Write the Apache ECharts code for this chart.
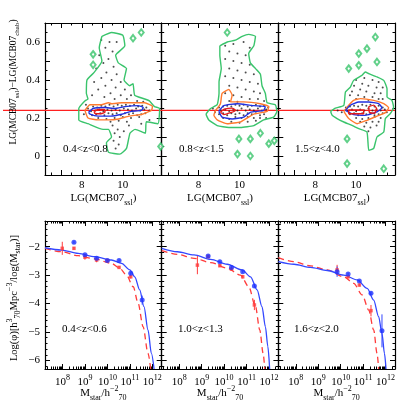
<!DOCTYPE html>
<html>
<head>
<meta charset="utf-8">
<script src="https://cdn.jsdelivr.net/npm/echarts@6/dist/echarts.min.js"></script>
<style>
  html, body { margin: 0; padding: 0; background: #fff; }
  #chart { width: 417px; height: 417px; }
</style>
</head>
<body>
<div id="chart"></div>
<script>
// ---- top row: LG(MCB07 ssl) vs offset, contour outlines + galaxies ----
const topLabels = ['0.4<z<0.8', '0.8<z<1.5', '1.5<z<4.0']
const offsetLevel = 0.24

const p1Green = [[8.98,0.63],[9.45,0.65],[10.0,0.635],[10.1,0.58],[9.65,0.53],[9.78,0.49],[10.18,0.46],[10.06,0.40],[10.34,0.37],[10.5,0.38],[10.58,0.32],[11.07,0.30],[11.3,0.29],[11.55,0.26],[11.8,0.25],[11.72,0.17],[11.15,0.18],[11.1,0.12],[10.6,0.14],[10.35,0.12],[10.18,0.04],[9.85,0.01],[9.3,0.02],[9.2,0.07],[9.45,0.10],[9.3,0.14],[9.04,0.14],[8.3,0.17],[7.85,0.19],[7.85,0.25],[8.15,0.29],[8.3,0.30],[8.22,0.33],[8.25,0.40],[8.6,0.44],[8.98,0.5],[8.85,0.57]]
const p1Orange = [[8.15,0.24],[8.4,0.27],[8.95,0.27],[9.3,0.28],[9.45,0.275],[9.95,0.28],[10.6,0.28],[11.07,0.28],[11.45,0.26],[11.4,0.24],[10.95,0.22],[10.3,0.21],[9.8,0.195],[9.3,0.19],[8.8,0.19],[8.3,0.2]]
const p1Blue = [[8.33,0.23],[8.55,0.25],[9.1,0.255],[9.6,0.25],[10.1,0.26],[10.75,0.265],[11.0,0.255],[10.9,0.24],[10.4,0.235],[9.95,0.22],[9.4,0.21],[8.8,0.21],[8.4,0.22]]
const p1Red = [[8.6,0.235],[8.8,0.245],[9.1,0.245],[9.13,0.23],[8.88,0.222],[8.63,0.225]]
const p1Islands = [[8.55,0.535],[8.55,0.48],[10.5,0.62],[10.9,0.65],[11.85,0.05]]
const p1Dots = [[8.95,0.61],[9.35,0.6],[9.7,0.6],[9.15,0.57],[9.5,0.55],[8.85,0.53],[9.3,0.51],[9.05,0.49],[9.55,0.47],[8.7,0.46],[9.2,0.44],[9.7,0.43],[8.95,0.41],[9.45,0.4],[9.9,0.39],[8.6,0.39],[9.15,0.37],[9.65,0.36],[10.1,0.35],[8.8,0.35],[9.4,0.33],[9.9,0.32],[10.4,0.32],[8.5,0.32],[9.1,0.31],[9.6,0.3],[10.2,0.3],[10.7,0.29],[11.0,0.285],
  [8.3,0.25],[8.55,0.26],[8.75,0.255],[8.95,0.265],[9.15,0.26],[9.35,0.27],[9.55,0.26],[9.75,0.27],[9.95,0.265],[10.15,0.27],[10.35,0.265],[10.55,0.27],[10.75,0.26],[10.95,0.265],[11.15,0.255],
  [8.45,0.235],[8.65,0.24],[8.85,0.245],[9.05,0.235],[9.25,0.245],[9.45,0.24],[9.65,0.245],[9.85,0.24],[10.05,0.25],[10.25,0.245],[10.45,0.24],[10.65,0.25],[10.85,0.24],[11.05,0.245],[11.3,0.24],
  [8.5,0.215],[8.7,0.22],[8.9,0.225],[9.1,0.215],[9.3,0.225],[9.5,0.22],[9.7,0.225],[9.9,0.215],[10.1,0.225],[10.3,0.22],[10.5,0.225],[10.7,0.215],[10.9,0.22],[11.1,0.225],
  [8.8,0.2],[9.2,0.195],[9.6,0.2],[10.0,0.205],[10.4,0.2],[10.8,0.205],[9.4,0.18],[9.8,0.185],[10.2,0.18],
  [9.5,0.16],[9.75,0.14],[9.6,0.12],[9.85,0.1],[9.55,0.08],[9.8,0.06],[9.65,0.04],[10.05,0.13],[10.3,0.16],[10.9,0.17],[11.3,0.19],[8.1,0.22],[8.2,0.27]]

const p2Green = [[9.04,0.58],[9.4,0.60],[9.8,0.61],[10.13,0.63],[10.45,0.64],[10.78,0.63],[10.7,0.58],[10.45,0.54],[10.53,0.49],[10.78,0.46],[11.02,0.43],[11.1,0.37],[11.26,0.33],[11.35,0.28],[11.75,0.27],[11.83,0.235],[11.67,0.205],[11.18,0.19],[10.7,0.16],[10.05,0.15],[9.48,0.15],[8.91,0.16],[8.5,0.19],[8.37,0.22],[8.59,0.25],[8.91,0.27],[9.0,0.33],[9.0,0.39],[9.11,0.46],[9.04,0.53]]
const p2Orange = [[8.83,0.24],[9.07,0.275],[9.15,0.33],[9.48,0.35],[9.64,0.32],[9.56,0.285],[10.21,0.285],[11.02,0.275],[11.43,0.26],[11.35,0.235],[10.7,0.22],[10.05,0.18],[9.4,0.17],[8.91,0.19],[8.75,0.215]]
const p2Blue = [[8.99,0.235],[9.23,0.265],[9.88,0.275],[10.7,0.265],[11.26,0.26],[11.18,0.24],[10.53,0.23],[10.21,0.205],[9.64,0.195],[9.15,0.205]]
const p2Red = [[9.07,0.23],[9.23,0.245],[9.64,0.252],[9.8,0.24],[9.56,0.228],[9.23,0.218]]
const p2Islands = [[9.4,0.65],[9.97,0.09],[10.53,0.09],[10.53,0.0],[9.9,0.01],[11.43,0.065],[11.02,0.12],[11.7,0.08]]
const p2Dots = [[9.3,0.58],[9.7,0.59],[10.2,0.6],[10.5,0.57],[9.5,0.55],[9.9,0.54],[10.3,0.53],[9.3,0.51],[9.7,0.5],[10.1,0.49],[10.5,0.48],[9.5,0.46],[9.9,0.45],[10.3,0.44],[10.7,0.43],[9.3,0.42],[9.7,0.41],[10.1,0.4],[10.5,0.39],[10.9,0.38],[9.5,0.37],[9.9,0.36],[10.3,0.35],[10.7,0.34],[11.0,0.33],[9.3,0.33],[9.7,0.32],[10.1,0.31],[10.5,0.3],[10.9,0.3],[11.2,0.29],[9.5,0.29],[9.9,0.285],
  [9.0,0.255],[9.2,0.26],[9.4,0.265],[9.6,0.26],[9.8,0.27],[10.0,0.265],[10.2,0.27],[10.4,0.26],[10.6,0.265],[10.8,0.27],[11.0,0.26],[11.2,0.265],[11.4,0.255],
  [9.1,0.24],[9.3,0.245],[9.5,0.235],[9.7,0.245],[9.9,0.24],[10.1,0.25],[10.3,0.24],[10.5,0.245],[10.7,0.24],[10.9,0.25],[11.1,0.24],[11.3,0.245],
  [9.0,0.22],[9.2,0.225],[9.4,0.215],[9.6,0.225],[9.8,0.22],[10.0,0.225],[10.2,0.215],[10.4,0.225],[10.6,0.22],[10.8,0.225],[11.0,0.215],[11.2,0.22],
  [9.2,0.2],[9.5,0.195],[9.8,0.205],[10.1,0.2],[10.4,0.205],[10.7,0.2],[11.0,0.2],[9.6,0.18],[10.0,0.175],[10.4,0.18],[10.8,0.185],[11.3,0.2],[8.8,0.23],[8.7,0.25]]

const p3Green = [[8.75,0.235],[8.99,0.252],[9.4,0.267],[9.48,0.337],[9.72,0.363],[9.88,0.398],[10.29,0.425],[10.45,0.442],[10.62,0.433],[11.02,0.416],[11.35,0.398],[11.51,0.354],[11.51,0.31],[11.75,0.293],[11.83,0.258],[11.67,0.223],[11.43,0.197],[11.35,0.126],[11.02,0.1],[10.86,0.04],[10.62,0.03],[10.53,0.126],[10.13,0.144],[9.8,0.161],[9.4,0.179],[9.07,0.197],[8.83,0.214]]
const p3Orange = [[9.4,0.235],[9.64,0.267],[9.88,0.293],[10.21,0.302],[10.86,0.293],[11.35,0.276],[11.59,0.254],[11.43,0.228],[11.02,0.21],[10.53,0.188],[10.05,0.17],[9.64,0.197]]
const p3Blue = [[9.48,0.24],[9.72,0.267],[10.13,0.284],[10.62,0.284],[11.1,0.276],[11.26,0.254],[11.02,0.232],[10.45,0.214],[9.88,0.218]]
const p3Red = [[9.64,0.243],[10.37,0.243],[10.37,0.222],[9.64,0.222]]
const p3Red2 = [[10.62,0.26],[10.86,0.268],[11.0,0.25],[10.9,0.225],[10.65,0.23]]
const p3Islands = [[9.56,0.09],[9.56,-0.04],[11.35,-0.067],[10.94,0.626],[10.53,0.565],[10.13,0.539],[10.13,0.477],[9.64,0.46],[11.02,0.495]]
const p3Dots = [[10.0,0.4],[10.4,0.41],[10.8,0.4],[11.1,0.39],[9.9,0.37],[10.3,0.38],[10.6,0.37],[11.0,0.36],[11.3,0.36],[9.8,0.34],[10.2,0.35],[10.5,0.34],[10.9,0.33],[11.2,0.33],[9.7,0.32],[10.1,0.32],[10.4,0.31],[10.8,0.31],[11.1,0.3],[10.0,0.3],[10.6,0.295],[11.3,0.3],
  [9.5,0.255],[9.7,0.26],[9.9,0.265],[10.1,0.26],[10.3,0.27],[10.5,0.265],[10.7,0.27],[10.9,0.26],[11.1,0.265],[11.3,0.255],
  [9.6,0.24],[9.8,0.245],[10.0,0.235],[10.2,0.245],[10.4,0.24],[10.6,0.25],[10.8,0.24],[11.0,0.245],[11.2,0.24],[11.4,0.245],
  [9.7,0.22],[9.9,0.225],[10.1,0.215],[10.3,0.225],[10.5,0.22],[10.7,0.225],[10.9,0.215],[11.1,0.22],[11.3,0.225],
  [10.0,0.2],[10.3,0.195],[10.6,0.2],[10.9,0.205],[11.2,0.2],[10.2,0.18],[10.5,0.175],[10.8,0.18],[11.1,0.18],[10.4,0.155],[10.7,0.15],[11.0,0.16],[10.6,0.13],[9.3,0.23],[9.1,0.24],[11.5,0.23]]

// ---- bottom row: mass functions (log10 M, log phi, error) ----
const botLabels = ['0.4<z<0.6', '1.0<z<1.3', '1.6<z<2.0']

const lf1BlueFit = [[7.22,-2.04],[7.96,-2.12],[8.70,-2.24],[9.44,-2.35],[10.18,-2.47],[10.63,-2.59],[11.0,-2.82],[11.22,-3.06],[11.44,-3.52],[11.63,-4.11],[11.81,-4.93],[11.96,-5.75],[12.08,-6.3]]
const lf1RedFit = [[7.22,-2.06],[7.96,-2.18],[8.70,-2.32],[9.44,-2.43],[10.18,-2.59],[10.55,-2.76],[10.85,-3.0],[11.15,-3.41],[11.37,-3.99],[11.59,-4.81],[11.81,-5.75],[11.93,-6.3]]
const lf1BluePts = [[8.51,-1.85,0.04],[9.0,-2.29,0.04],[9.52,-2.41,0.04],[10.0,-2.49,0.04],[10.52,-2.49,0.04],[11.04,-2.94,0.06],[11.55,-3.88,0.16]]
const lf1RedPts = [[7.99,-2.06,0.23],[8.51,-2.06,0.05],[9.0,-2.37,0.09],[9.52,-2.47,0.08],[10.0,-2.49,0.05],[10.52,-2.73,0.05],[11.04,-3.06,0.06]]

const lf2BlueFit = [[7.22,-2.06],[7.92,-2.18],[8.66,-2.29],[9.40,-2.45],[10.14,-2.62],[10.8,-2.82],[11.18,-3.06],[11.47,-3.52],[11.69,-4.11],[11.84,-4.81],[11.95,-5.51],[12.03,-6.3]]
const lf2RedFit = [[7.22,-2.14],[7.92,-2.27],[8.66,-2.41],[9.40,-2.56],[10.14,-2.76],[10.73,-3.0],[11.1,-3.41],[11.4,-4.11],[11.59,-4.93],[11.74,-5.75],[11.81,-6.3]]
const lf2BluePts = [[9.29,-2.33,0.05],[9.81,-2.53,0.04],[10.33,-2.73,0.04],[10.83,-2.88,0.04],[11.35,-3.38,0.06]]
const lf2RedPts = [[8.81,-2.65,0.32],[9.29,-2.35,0.05],[9.81,-2.67,0.05],[10.33,-2.79,0.05],[10.83,-3.06,0.06],[11.35,-4.05,0.18]]

const lf3BlueFit = [[7.22,-2.53],[7.92,-2.62],[8.66,-2.73],[9.40,-2.84],[10.14,-3.0],[10.73,-3.17],[11.18,-3.47],[11.47,-3.88],[11.69,-4.46],[11.84,-5.05],[11.95,-5.75],[12.02,-6.3]]
const lf3RedFit = [[7.22,-2.39],[7.92,-2.53],[8.66,-2.68],[9.40,-2.82],[10.14,-3.06],[10.58,-3.29],[10.96,-3.7],[11.25,-4.23],[11.47,-4.93],[11.62,-5.75],[11.69,-6.3]]
const lf3BluePts = [[9.84,-2.88,0.18],[10.33,-2.96,0.04],[10.83,-3.21,0.04],[11.35,-3.64,0.06],[11.84,-4.96,0.58]]
const lf3RedPts = [[9.84,-2.82,0.18],[10.33,-3.06,0.05],[10.83,-3.35,0.05],[11.35,-4.25,0.2]]

// tick positions
const topXMajor = [7, 8, 9, 10, 11]
const topXMinor = [6.5, 7.5, 8.5, 9.5, 10.5, 11.5]
const topXLabels = [8, 10]
const topYMajor = [0, 0.1, 0.2, 0.3, 0.4, 0.5, 0.6]
const topYMinor = [-0.05, 0.05, 0.15, 0.25, 0.35, 0.45, 0.55, 0.65]
const topYLabels = [0, 0.2, 0.4, 0.6]
const botXMajor = [8, 9, 10, 11, 12]
const botYMajor = [-6, -5, -4, -3, -2]
const botYLabels = [-6, -5, -4, -3, -2]

const FONT = "'Liberation Serif', 'DejaVu Serif', serif"
const GREEN = '#3ac46c'
const ORANGE = '#ff7a2e'
const BLUE = '#2130e0'
const RED = '#e41b1b'
const FIT_BLUE = '#3347ff'
const FIT_RED = '#ff3b3b'

function makeRich(size) {
  const small = Math.round(size * 0.72)
  return {
    n: { fontFamily: FONT, fontSize: size, color: '#000', lineHeight: size + 6 },
    sub: { fontFamily: FONT, fontSize: small, color: '#000', verticalAlign: 'bottom', lineHeight: small + 1 },
    sup: { fontFamily: FONT, fontSize: small, color: '#000', verticalAlign: 'top', lineHeight: small + 1 }
  }
}

// log minor ticks for the mass axis
const botXMinor = []
for (let d = 7; d <= 12; d++) {
  for (let k = 2; k <= 9; k++) botXMinor.push(d + Math.log10(k))
}
const botYMinor = []
for (let v = -62; v <= -12; v += 2) {
  if (v % 10 !== 0) botYMinor.push(v / 10)
}

const GX = [45, 161.7, 278.3]
const GW = 116.7
const TOPR = { x: [6.2, 11.9], y: [-0.1, 0.7] }
const BOTR = { x: [7.22, 12.42], y: [-6.3, -1.1] }

const grids = []
const xAxes = []
const yAxes = []

function axis(dim, g, r, pos, ticks, len, showLine, labels, fmt) {
  const a = {
    gridIndex: g, type: 'value', min: r[0], max: r[1], position: pos,
    axisLine: { show: showLine, onZero: false, lineStyle: { color: '#000', width: 1.2 } },
    axisTick: { show: true, inside: true, length: len, customValues: ticks, lineStyle: { color: '#000', width: 1 } },
    axisLabel: { show: false },
    splitLine: { show: false },
    minorTick: { show: false }
  }
  if (labels) {
    a.axisLabel = {
      show: true, customValues: labels, formatter: fmt, margin: 5,
      color: '#000', fontFamily: FONT, fontSize: 11, rich: makeRich(11)
    }
  }
  return a
}

function addPanel(g, left, top, height, r, xMaj, xMin, yMaj, yMin, xLab, xFmt, yLab, yFmt) {
  grids.push({ left: left, top: top, width: GW, height: height })
  xAxes.push(axis('x', g, r.x, 'bottom', xMaj, 5, true, xLab, xFmt))
  xAxes.push(axis('x', g, r.x, 'top', xMaj, 5, true))
  xAxes.push(axis('x', g, r.x, 'bottom', xMin, 2.5, false))
  xAxes.push(axis('x', g, r.x, 'top', xMin, 2.5, false))
  yAxes.push(axis('y', g, r.y, 'left', yMaj, 5, true, yLab, yFmt))
  yAxes.push(axis('y', g, r.y, 'right', yMaj, 5, true))
  yAxes.push(axis('y', g, r.y, 'left', yMin, 2.5, false))
  yAxes.push(axis('y', g, r.y, 'right', yMin, 2.5, false))
}

const topFmt = v => (v === 0 ? '0' : v.toFixed(1))
const botXFmt = v => '{n|10}{sup|' + v + '}'
const botYFmt = v => '\u2212' + Math.abs(v)

for (let i = 0; i < 3; i++) {
  addPanel(i, GX[i], 23, 152, TOPR, topXMajor, topXMinor, topYMajor, topYMinor,
    topXLabels, v => String(v), i === 0 ? topYLabels : null, topFmt)
}
for (let i = 0; i < 3; i++) {
  addPanel(3 + i, GX[i], 221, 148, BOTR, botXMajor, botXMinor, botYMajor, botYMinor,
    botXMajor, botXFmt, i === 0 ? botYLabels : null, botYFmt)
}
// hidden overlay carrying the reference offset line across the top row
grids.push({ left: 3, top: 23, width: 392, height: 152 })
xAxes.push({ gridIndex: 6, type: 'value', min: 0, max: 1, show: false })
yAxes.push({ gridIndex: 6, type: 'value', min: TOPR.y[0], max: TOPR.y[1], show: false })

const series = []
series.push({
  type: 'line', xAxisIndex: 24, yAxisIndex: 24, data: [[0, offsetLevel], [1, offsetLevel]],
  symbol: 'none', lineStyle: { color: '#ff2020', width: 1.3 }, z: 1, silent: true
})

function poly(g, pts, color, z) {
  return {
    type: 'line', xAxisIndex: g * 4, yAxisIndex: g * 4, data: pts.concat([pts[0]]),
    symbol: 'none', smooth: 0.15, lineStyle: { color: color, width: 1.4 }, z: z, silent: true
  }
}

const topSets = [
  { dots: p1Dots, green: [p1Green], islands: p1Islands, orange: p1Orange, blue: p1Blue, red: [p1Red] },
  { dots: p2Dots, green: [p2Green], islands: p2Islands, orange: p2Orange, blue: p2Blue, red: [p2Red] },
  { dots: p3Dots, green: [p3Green], islands: p3Islands, orange: p3Orange, blue: p3Blue, red: [p3Red, p3Red2] }
]
topSets.forEach((s, g) => {
  series.push({
    type: 'scatter', xAxisIndex: g * 4, yAxisIndex: g * 4, data: s.dots,
    symbolSize: 2, itemStyle: { color: '#222' }, z: 2, silent: true
  })
  s.green.forEach(p => series.push(poly(g, p, GREEN, 3)))
  series.push({
    type: 'scatter', xAxisIndex: g * 4, yAxisIndex: g * 4, data: s.islands,
    symbol: 'emptyDiamond', symbolSize: [5, 6.5],
    itemStyle: { color: GREEN, borderColor: GREEN, borderWidth: 1.3 }, z: 3, silent: true
  })
  series.push(poly(g, s.orange, ORANGE, 4))
  series.push(poly(g, s.blue, BLUE, 5))
  s.red.forEach(p => series.push(poly(g, p, RED, 6)))
})

function errorBars(g, pts, color) {
  return {
    type: 'custom', xAxisIndex: g * 4, yAxisIndex: g * 4, data: pts, z: 6, silent: true,
    encode: { x: 0, y: 1 },
    renderItem: (params, api) => {
      const x = api.value(0), y = api.value(1), e = api.value(2)
      const a = api.coord([x, y - e])
      const b = api.coord([x, y + e])
      return { type: 'line', shape: { x1: a[0], y1: a[1], x2: b[0], y2: b[1] }, style: { stroke: color, lineWidth: 1 } }
    }
  }
}

const botSets = [
  { bf: lf1BlueFit, rf: lf1RedFit, bp: lf1BluePts, rp: lf1RedPts },
  { bf: lf2BlueFit, rf: lf2RedFit, bp: lf2BluePts, rp: lf2RedPts },
  { bf: lf3BlueFit, rf: lf3RedFit, bp: lf3BluePts, rp: lf3RedPts }
]
botSets.forEach((s, i) => {
  const g = 3 + i
  series.push({
    type: 'line', xAxisIndex: g * 4, yAxisIndex: g * 4, data: s.rf, symbol: 'none',
    smooth: 0.3, smoothMonotone: 'x', lineStyle: { color: FIT_RED, width: 1.3, type: [6, 4] }, z: 4, silent: true
  })
  series.push({
    type: 'line', xAxisIndex: g * 4, yAxisIndex: g * 4, data: s.bf, symbol: 'none',
    smooth: 0.3, smoothMonotone: 'x', lineStyle: { color: FIT_BLUE, width: 1.3 }, z: 5, silent: true
  })
  series.push(errorBars(g, s.rp, FIT_RED))
  series.push(errorBars(g, s.bp, FIT_BLUE))
  series.push({
    type: 'scatter', xAxisIndex: g * 4, yAxisIndex: g * 4, data: s.rp.map(p => [p[0], p[1]]),
    symbol: 'rect', symbolSize: 3.5, itemStyle: { color: FIT_RED }, z: 7, silent: true
  })
  series.push({
    type: 'scatter', xAxisIndex: g * 4, yAxisIndex: g * 4, data: s.bp.map(p => [p[0], p[1]]),
    symbol: 'circle', symbolSize: 5, itemStyle: { color: '#1f33ff' }, z: 8, silent: true
  })
})

// titles and panel annotations
function txt(x, y, text, size, align, rot) {
  return {
    type: 'text', x: x, y: y, rotation: rot || 0, z: 20, silent: true,
    style: {
      text: text, rich: makeRich(size), fontFamily: FONT, fontSize: size, fill: '#000',
      align: align, verticalAlign: 'middle', textAlign: align, textVerticalAlign: 'middle'
    }
  }
}
const graphic = []
graphic.push(txt(13, 82, '{n|LG(MCB07}{sub|ssl}{n|)\u2212LG(MCB07}{sub|chab}{n|)}', 9.5, 'center', Math.PI / 2))
graphic.push(txt(14, 298, '{n|Log(\u03c6)[h}{sup|3}{sub|70}{n|Mpc}{sup|\u22123}{n|/log(M}{sub|star}{n|)]}', 10.5, 'center', Math.PI / 2))
const topZx = [63, 179, 295]
const botZx = [62, 178, 294]
for (let i = 0; i < 3; i++) {
  const cx = GX[i] + GW / 2
  graphic.push(txt(cx, 198, '{n|LG(MCB07}{sub|ssl}{n|)}', 11, 'center'))
  graphic.push(txt(cx, 393, '{n|M}{sub|star}{n|/h}{sup|\u22122}{sub|70}', 11, 'center'))
  graphic.push(txt(topZx[i], 149, topLabels[i], 11, 'left'))
  graphic.push(txt(botZx[i], 329, botLabels[i], 11, 'left'))
}

const chart = echarts.init(document.getElementById('chart'), null, { renderer: 'canvas' })
chart.setOption({
  animation: false,
  backgroundColor: '#fff',
  grid: grids,
  xAxis: xAxes,
  yAxis: yAxes,
  series: series,
  graphic: graphic
})
</script>
</body>
</html>
